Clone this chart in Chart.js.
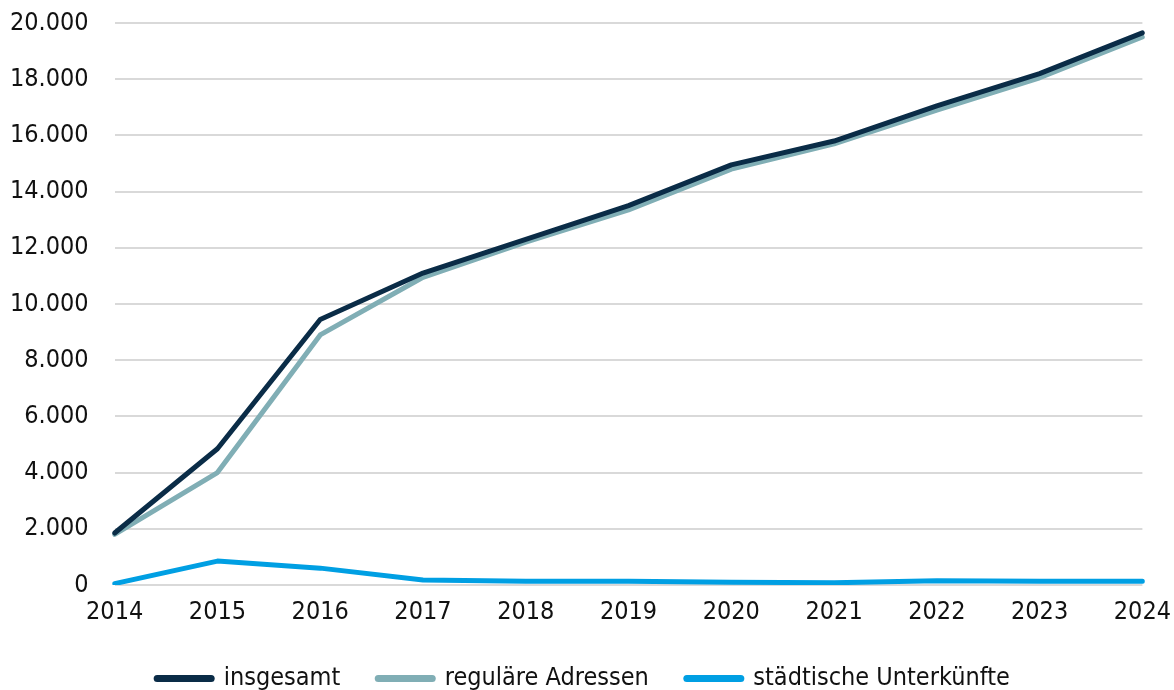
<!DOCTYPE html>
<html>
<head>
<meta charset="utf-8">
<script src="https://cdn.jsdelivr.net/npm/chart.js@4/dist/chart.umd.min.js"></script>
<style>
  html, body { margin: 0; padding: 0; background: #fff; overflow: hidden; }
  #wrap { position: relative; width: 1183px; height: 719px; margin-top: -18px; }
</style>
</head>
<body>
<div id="wrap"><canvas id="chart"></canvas></div>
<script>
'use strict';

// Jahre und Werte
var years = ['2014', '2015', '2016', '2017', '2018', '2019', '2020', '2021', '2022', '2023', '2024'];
var insgesamt = [1850, 4850, 9450, 11100, 12300, 13500, 14950, 15800, 17050, 18200, 19650];
var regulaer = [1800, 4000, 8900, 10950, 12200, 13350, 14800, 15700, 16900, 18050, 19500];
var staedtisch = [50, 850, 600, 180, 130, 130, 100, 80, 150, 130, 130];

var fontFamily = "'DejaVu Sans Condensed', 'DejaVu Sans', sans-serif";
var fontSize = 25;

var makeSet = function (label, data, color) {
  return {
    label: label,
    data: data,
    borderColor: color,
    backgroundColor: color,
    borderWidth: 5,
    borderCapStyle: 'round',
    borderJoinStyle: 'round',
    pointRadius: 0,
    pointHoverRadius: 0,
    tension: 0,
    fill: false
  };
};

// legend padding is used both ways; keep the wide gaps but trim the height
var legendTrim = {
  id: 'legendTrim',
  afterInit: function (chart) {
    var legend = chart.legend;
    if (!legend) return;
    var origFit = legend.fit;
    var origDraw = legend.draw;
    legend.fit = function () {
      origFit.call(this);
      this.height -= 11;
    };
    legend.draw = function () {
      this.ctx.save();
      this.ctx.translate(0, -11);
      origDraw.apply(this, arguments);
      this.ctx.restore();
    };
  }
};

var ctx = document.getElementById('chart').getContext('2d');

var chart = new Chart(ctx, {
  type: 'line',
  data: {
    labels: years,
    datasets: [
      makeSet('insgesamt', insgesamt, '#0a2c47'),
      makeSet('reguläre Adressen', regulaer, '#80aeb5'),
      makeSet('städtische Unterkünfte', staedtisch, '#009fe3')
    ]
  },
  plugins: [legendTrim],
  options: {
    responsive: true,
    maintainAspectRatio: false,
    animation: false,
    layout: { padding: { top: 0, right: 0, left: -16, bottom: 0 } },
    plugins: {
      tooltip: { enabled: false },
      legend: {
        position: 'bottom',
        labels: {
          color: '#111',
          font: { family: fontFamily, size: fontSize },
          usePointStyle: true,
          pointStyle: 'line',
          pointStyleWidth: 54,
          padding: 38,
          generateLabels: function (c) {
            var items = Chart.defaults.plugins.legend.labels.generateLabels(c);
            items.forEach(function (it) {
              it.lineWidth = 7;
              it.lineCap = 'round';
              it.pointStyle = 'line';
            });
            return items;
          }
        }
      }
    },
    scales: {
      x: {
        offset: false,
        grid: { display: false, drawTicks: false },
        border: { display: false },
        ticks: {
          color: '#111',
          padding: 12,
          maxRotation: 0,
          font: { family: fontFamily, size: fontSize }
        }
      },
      y: {
        min: 0,
        max: 20000,
        grid: { color: '#d9d9d9', lineWidth: 2, drawTicks: false },
        border: { display: false },
        ticks: {
          stepSize: 2000,
          color: '#111',
          padding: 26,
          font: { family: fontFamily, size: fontSize },
          callback: function (value) {
            return value.toLocaleString('de-DE');
          }
        }
      }
    }
  }
});
</script>
</body>
</html>
